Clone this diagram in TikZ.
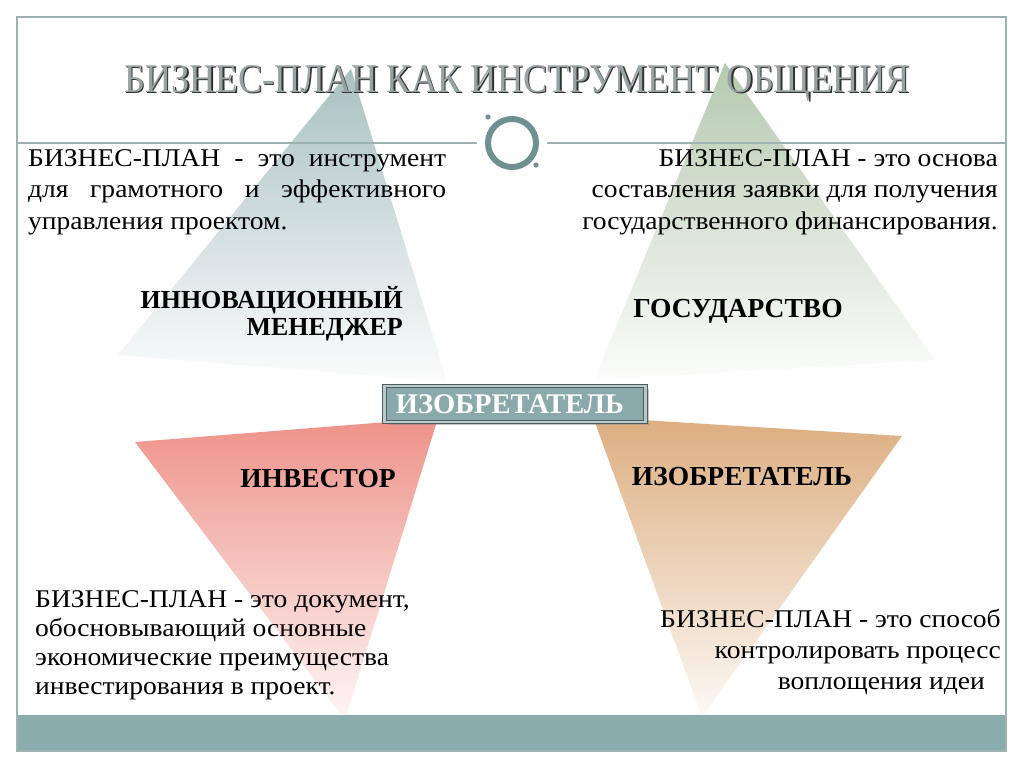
\documentclass[tikz,border=0pt]{standalone}
\usepackage{fontspec}
\setmainfont{Liberation Serif}
\newfontfamily\bodyfont[FakeStretch=1.08]{Liberation Serif}
\usetikzlibrary{shadows}

\definecolor{frameline}{HTML}{9DB3B2}
\definecolor{barfill}{HTML}{8AACAC}
\definecolor{ring}{HTML}{6F9090}
\definecolor{triblue}{HTML}{A9C0C1}
\definecolor{trigreen}{HTML}{B5C9AF}
\definecolor{trired}{HTML}{EE9289}
\definecolor{tritan}{HTML}{DDAE80}
\definecolor{boxfill}{HTML}{8AA9AB}
\definecolor{boxline}{HTML}{4E5E5E}
\definecolor{boxrim}{HTML}{B8CACA}
\definecolor{ttlgray}{HTML}{97A2A2}

\newcommand\hst{\rule{0pt}{24pt}}
\newcommand\ttltxt{\resizebox{785pt}{27pt}{БИЗНЕС-ПЛАН КАК ИНСТРУМЕНТ ОБЩЕНИЯ}}

\begin{document}
\begin{tikzpicture}[x=1pt, y=-1pt,
  body/.style={inner sep=0pt, font=\fontsize{25.5}{31.5}\selectfont\bodyfont},
  lbl/.style={inner sep=0pt, font=\fontsize{27.5}{27}\selectfont\bfseries},
  ttl/.style={inner sep=0pt, anchor=base}]
  \useasboundingbox (0,0) rectangle (1024,768);
  \fill[white] (0,0) rectangle (1024,768);

  % triangles
  \path[top color=triblue, bottom color=triblue!4] (351,69) -- (447,382) -- (118,355) -- cycle;
  \path[top color=trigreen, bottom color=trigreen!4] (725,63) -- (935,360) -- (594,380) -- cycle;
  \path[top color=trired, bottom color=trired!8] (135,442) -- (438,418) -- (345,720) -- cycle;
  \path[top color=tritan, bottom color=tritan!8] (593,417) -- (902,436) -- (702,717) -- cycle;

  % frame and bar
  \fill[barfill] (17,715) rectangle (1006,751);
  \draw[frameline, line width=1.2pt] (17,17) rectangle (1006,751);

  \node[circle, draw=ring, line width=6pt, minimum size=48pt, inner sep=0pt] (cr) at (512,143) {};
  \fill[ring] (488,117) circle (2.6);
  \fill[ring] (536,165) circle (2.6);
  \coordinate (sl) at (17,143);
  \coordinate (sr) at (1006,143);
  \draw[frameline, line width=1.5pt] (sl) -- ([xshift=-8pt]cr.west);
  \draw[frameline, line width=1.5pt] ([xshift=8pt]cr.east) -- (sr);

  % title
  \node[ttl, text=black!80] (tis) at (518.5,93.5) {\ttltxt};
  \node[ttl, text=ttlgray] (ti) at (517,92) {\ttltxt};

  % body texts
  \node[body, anchor=north west, text width=418pt, align=justify] (b1) at (28,142)
    {\hst БИЗНЕС-ПЛАН - это инструмент\linebreak для грамотного и эффективного\linebreak управления проектом.};
  \node[body, anchor=north east, align=right] (b2) at (998,142)
    {\hst БИЗНЕС-ПЛАН - это основа\\ составления заявки для получения\\ государственного финансирования.};
  \node[body, anchor=north west, align=left, font=\fontsize{25.5}{29}\selectfont\bodyfont] (b3) at (35,583)
    {\hst БИЗНЕС-ПЛАН - это документ,\\ обосновывающий основные\\ экономические преимущества\\ инвестирования в проект.};
  \node[body, anchor=north east, align=right, font=\fontsize{25.5}{31}\selectfont\bodyfont] (b4) at (1001,603)
    {\hst БИЗНЕС-ПЛАН - это способ\\ контролировать процесс\\ воплощения идеи\hspace*{16pt}};

  % labels
  \node[lbl, anchor=north east, align=right, font=\fontsize{26}{27}\selectfont\bfseries] (mg) at (403,284)
    {\hst ИННОВАЦИОННЫЙ\\ МЕНЕДЖЕР};
  \node[lbl, anchor=base] (gv) at (738,317) {ГОСУДАРСТВО};
  \node[lbl, anchor=base] (iv) at (318,487) {ИНВЕСТОР};
  \node[lbl, anchor=base] (iz) at (742,485) {ИЗОБРЕТАТЕЛЬ};

  \node[draw=boxline, double=boxrim, double distance=2.5pt, line width=1pt, fill=boxfill,
    minimum width=261pt, minimum height=36pt, inner sep=0pt, text=white,
    font=\fontsize{28.5}{28}\selectfont\bfseries,
    drop shadow={shadow xshift=3pt, shadow yshift=-3pt, opacity=0.45}] (ib) at (515,404)
    {ИЗОБРЕТАТЕЛЬ\hspace*{10pt}};
\end{tikzpicture}
\end{document}
